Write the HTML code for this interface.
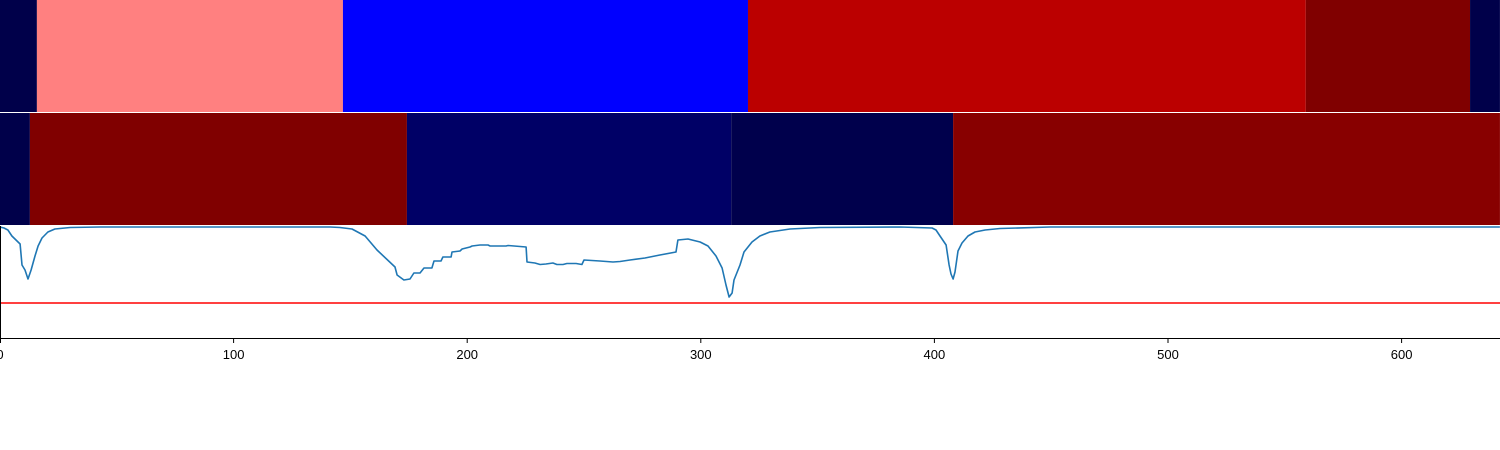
<!DOCTYPE html>
<html><head><meta charset="utf-8"><style>
html,body{margin:0;padding:0;background:#fff;width:1500px;height:450px;overflow:hidden}
svg{display:block}
text{font-family:"Liberation Sans","DejaVu Sans",sans-serif;font-size:13px;fill:#000}
</style></head><body>
<svg id="chart" width="1500" height="450" viewBox="0 0 1500 450"></svg>
<script>
// Top band segments (start, end in x units) and colours
const topStarts = [0, 15.8, 146.8, 320.2, 559, 629.3];
const topEnds   = [15.8, 146.8, 320.2, 559, 629.3, 642.1];
const topColors = ["#00004a", "#ff8080", "#0000ff", "#bb0000", "#800000", "#00004a"];
// Second band segments
const midStarts = [0, 12.8, 174.2, 313, 408];
const midEnds   = [12.8, 174.2, 313, 408, 642.1];
const midColors = ["#00004a", "#800000", "#000066", "#00004c", "#880000"];
// Line series
const lineX = [0,1.7,3.4,5.1,8.6,9.4,10.7,12,13.3,15,16.3,18,20.5,23.5,30,42.8,141.3,145.5,150.7,156.3,161.4,169.1,170,172.9,175.5,177.2,179.8,181.5,184.9,185.8,188.8,189.6,193.1,193.5,196.9,197.8,201.2,202.1,205.5,208.9,209.8,216.6,217.5,225.2,225.6,229,231.2,233.7,236.7,238.4,241,242.7,246.6,249.1,250,256.8,262.4,265.4,269.7,276.1,282.5,289.4,290.2,294.5,299.7,303.1,306.5,309.1,310.8,312.1,313.4,314.2,316.8,318.5,321.9,325.3,329.6,338.2,351,385.3,399,400.7,402.4,405,406.3,407.1,408,408.8,410.1,411.8,414.4,417.4,421.7,428.1,449.5,642.1];
const lineY = [111,110,108,102,94,73,68,59,68,82,92,100,106,109,110.5,111,111,110.5,109,102,88,71,63,58,59,65,65,70,70,77,77,81,81,86,87,89,91,92,93,93,92,92,92.5,91,76,75,73.5,74,75,73.5,73.5,74.5,74.5,73.5,78,77,76,76.5,78,80,83,86,98,99,96,92,82,70,53,41,45,58,73,86,96,102,106,109,110.5,111,110,108,102,93,73,64,59,66,87,95,102,106,108,109.5,111,111];
const thresholdValue = 35;
const xTicks = [0,100,200,300,400,500,600];

const svg = document.getElementById('chart');
const NS = 'http://www.w3.org/2000/svg';
const X0 = 0, XPX = 2.336;
const xs = v => X0 + v * XPX;
const PLOT_TOP = 226, PLOT_BOT = 338;
const ys = v => PLOT_BOT - v * (PLOT_BOT - PLOT_TOP) / 112;
function mk(tag, attrs){const e=document.createElementNS(NS,tag);for(const k in attrs)e.setAttribute(k,attrs[k]);svg.appendChild(e);return e;}

for (let i=0;i<topStarts.length;i++){
  const r = mk('rect',{x:xs(topStarts[i]),y:0,width:xs(topEnds[i])-xs(topStarts[i]),height:112,fill:topColors[i]});
  
  
}
for (let i=0;i<midStarts.length;i++){
  const r = mk('rect',{x:xs(midStarts[i]),y:113,width:xs(midEnds[i])-xs(midStarts[i]),height:112,fill:midColors[i]});
  
  
}
const th = mk('line',{x1:0,x2:1500,y1:ys(thresholdValue),y2:ys(thresholdValue),stroke:'#ff0000','stroke-width':1.6});


let d='';
for(let i=0;i<lineX.length;i++){d+=(i?'L':'M')+xs(lineX[i]).toFixed(1)+','+ys(lineY[i]).toFixed(1);}
const p = mk('path',{d:d,fill:'none',stroke:'#1f77b4','stroke-width':1.6,'stroke-linejoin':'round'});


const ls = mk('line',{x1:0.5,x2:0.5,y1:PLOT_TOP,y2:PLOT_BOT,stroke:'#000','stroke-width':1});


const bs = mk('line',{x1:0,x2:1500,y1:PLOT_BOT+0.5,y2:PLOT_BOT+0.5,stroke:'#000','stroke-width':1});


for (const t of xTicks){
  const x = Math.max(0.5, xs(t));
  const tk = mk('line',{x1:x,x2:x,y1:PLOT_BOT,y2:PLOT_BOT+5,stroke:'#000','stroke-width':1});
  
  
  const tx = mk('text',{x:xs(t),y:PLOT_BOT+21,'text-anchor':'middle'});
  tx.textContent = String(t);
  
  
}
</script>
</body></html>
